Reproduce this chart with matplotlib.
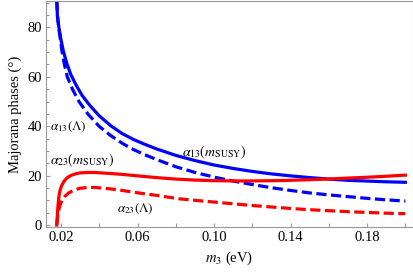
import matplotlib.pyplot as plt
from matplotlib.ticker import MultipleLocator, FuncFormatter

# alpha_13 at m_SUSY (blue solid)
m_b_solid = [0.0178, 0.0181, 0.0189, 0.020, 0.0212, 0.023, 0.0251, 0.028, 0.031, 0.035,
             0.040, 0.046, 0.052, 0.058, 0.0634, 0.07, 0.08, 0.09, 0.10, 0.11, 0.12,
             0.13, 0.14, 0.15, 0.16, 0.17, 0.18, 0.19, 0.20]
a13_susy = [91.0, 85.0, 80.0, 75.0, 70.5, 65.5, 61.0, 56.5, 52.5, 48.5,
            44.2, 40.2, 37.0, 34.6, 32.8, 30.8, 28.2, 26.1, 24.3, 22.9, 21.7,
            20.7, 19.9, 19.2, 18.6, 18.1, 17.8, 17.5, 17.3]

# alpha_13 at Lambda (blue dashed)
m_b_dash = [0.0178, 0.0181, 0.0188, 0.0197, 0.0206, 0.0218, 0.0233, 0.026, 0.0294, 0.034,
            0.0399, 0.046, 0.052, 0.058, 0.0634, 0.07, 0.08, 0.09, 0.10, 0.11, 0.12,
            0.13, 0.14, 0.15, 0.16, 0.17, 0.18, 0.19, 0.20]
a13_lam = [91.0, 85.0, 80.0, 75.0, 70.0, 65.0, 60.0, 55.0, 50.0, 45.0,
           40.0, 36.2, 33.1, 30.5, 28.6, 26.5, 23.6, 21.3, 19.4, 17.8, 16.4,
           15.1, 14.0, 13.0, 12.2, 11.5, 10.8, 10.2, 9.7]

# alpha_23 at m_SUSY (red solid)
m_r_solid = [0.0178, 0.018, 0.0182, 0.0185, 0.0189, 0.0195, 0.0203, 0.0215, 0.023, 0.025,
             0.0275, 0.030, 0.034, 0.038, 0.045, 0.052, 0.06, 0.07, 0.08, 0.09, 0.10,
             0.11, 0.12, 0.13, 0.14, 0.15, 0.16, 0.17, 0.18, 0.19, 0.20]
a23_susy = [0.0, 3.0, 5.5, 8.5, 11.5, 14.0, 15.9, 17.6, 19.0, 20.0,
            20.7, 21.1, 21.3, 21.25, 20.9, 20.5, 19.9, 19.2, 18.6, 18.2, 17.95,
            17.85, 17.85, 17.95, 18.1, 18.35, 18.65, 19.0, 19.35, 19.75, 20.2]

# alpha_23 at Lambda (red dashed)
m_r_dash = [0.0178, 0.0181, 0.0185, 0.019, 0.0197, 0.0206, 0.022, 0.024, 0.027, 0.030,
            0.034, 0.038, 0.045, 0.052, 0.0613, 0.07, 0.082, 0.09, 0.10, 0.11, 0.12,
            0.13, 0.14, 0.15, 0.16, 0.17, 0.18, 0.19, 0.20]
a23_lam = [0.0, 2.5, 4.5, 6.6, 8.5, 10.0, 11.6, 13.0, 14.2, 14.9,
           15.2, 15.2, 14.7, 14.0, 12.9, 12.0, 10.6, 10.0, 9.3, 8.6, 7.9,
           7.3, 6.7, 6.2, 5.8, 5.4, 5.1, 4.8, 4.6]

plt.rcParams['font.family'] = ['Liberation Serif', 'DejaVu Serif']
plt.rcParams['mathtext.fontset'] = 'stix'

fig = plt.figure(figsize=(4.14, 2.74), dpi=100)
ax = fig.add_axes([46/414, 47/274, 367/414, 226/274])

lw = 2.3
ax.plot(m_b_dash, a13_lam, color='#0000ff', lw=lw, dashes=(3.2, 1.4))
ax.plot(m_b_solid, a13_susy, color='#0000ff', lw=lw)
ax.plot(m_r_dash, a23_lam, color='#ff0000', lw=lw, dashes=(3.2, 1.4))
ax.plot(m_r_solid, a23_susy, color='#ff0000', lw=lw)

ax.set_xlim(0.01216, 0.204)
ax.set_ylim(-0.8, 90.7)

ax.xaxis.set_major_locator(MultipleLocator(0.02))
ax.xaxis.set_major_formatter(FuncFormatter(
    lambda v, p: '%.2f' % v if round(v / 0.02) % 2 == 1 else ''))
ax.yaxis.set_major_locator(MultipleLocator(20))
ax.yaxis.set_minor_locator(MultipleLocator(5))

for s in ax.spines.values():
    s.set_color('#999999')
    s.set_linewidth(0.8)
ax.tick_params(which='both', direction='in', color='#999999', top=False, right=False,
               labelsize=10.5, pad=3)
ax.tick_params(which='major', length=3, width=0.8)
ax.tick_params(which='minor', length=2, width=0.8)

ax.set_xlabel('$m_3$ (eV)', fontsize=10.5, labelpad=4)
ax.set_ylabel('Majorana phases (°)', fontsize=10.5, labelpad=4)

ax.text(0.0144, 40, r'$\alpha_{13}(\Lambda)$', fontsize=9.5, va='center')
ax.text(0.0144, 26, r'$\alpha_{23}(m_{\rm SUSY})$', fontsize=10, va='center')
ax.text(0.0835, 29.5, r'$\alpha_{13}(m_{\rm SUSY})$', fontsize=10, va='center')
ax.text(0.0495, 6.8, r'$\alpha_{23}(\Lambda)$', fontsize=9.5, va='center')

fig.savefig('out.png', dpi=100)
